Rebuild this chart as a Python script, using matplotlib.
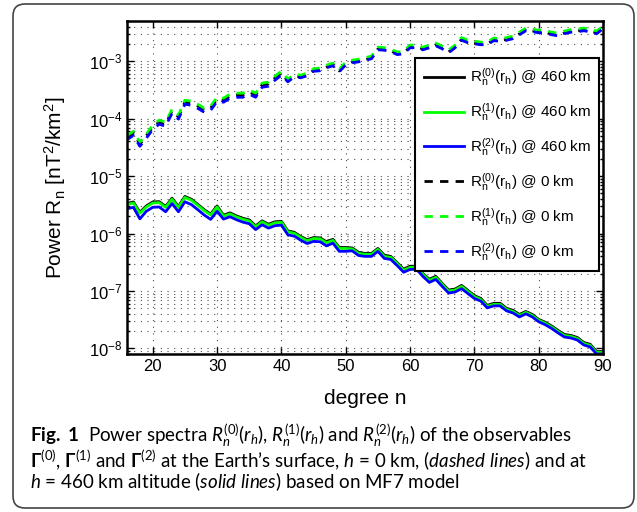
import numpy as np
import matplotlib
matplotlib.use("Agg")
import matplotlib.pyplot as plt
from matplotlib.patches import FancyBboxPatch
from matplotlib.transforms import IdentityTransform
from matplotlib.ticker import LogLocator, NullFormatter, MultipleLocator

plt.rcParams['font.family'] = ['Liberation Sans', 'DejaVu Sans']
plt.rcParams['mathtext.fontset'] = 'custom'
plt.rcParams['mathtext.rm'] = 'Lato'
plt.rcParams['mathtext.it'] = 'Lato:italic'
plt.rcParams['mathtext.bf'] = 'Lato:bold'

# spherical harmonic degree
degree = np.arange(16, 91)

# power spectra at 460 km altitude
r0_460 = [3.33e-6, 3.54e-6, 2.34e-6, 3.02e-6, 3.54e-6, 3.59e-6, 2.96e-6, 4.11e-6, 2.96e-6, 4.42e-6,
          3.95e-6, 3.22e-6, 2.60e-6, 2.18e-6, 3.02e-6, 2.08e-6, 2.29e-6, 2.03e-6, 1.84e-6, 1.73e-6,
          1.36e-6, 1.66e-6, 1.45e-6, 1.60e-6, 1.63e-6, 1.11e-6, 1.05e-6, 8.9e-7, 7.8e-7, 8.5e-7,
          8.4e-7, 7.2e-7, 7.9e-7, 5.7e-7, 5.7e-7, 5.6e-7, 4.7e-7, 4.5e-7, 4.5e-7, 5.5e-7,
          4.2e-7, 4.0e-7, 3.1e-7, 2.4e-7, 2.7e-7, 2.7e-7, 2.0e-7, 1.6e-7, 1.8e-7, 1.35e-7,
          1.04e-7, 1.08e-7, 1.25e-7, 1.02e-7, 8.3e-8, 7.4e-8, 5.6e-8, 6.1e-8, 6.1e-8, 5.0e-8,
          4.6e-8, 3.9e-8, 4.4e-8, 3.9e-8, 3.2e-8, 2.86e-8, 2.46e-8, 2.06e-8, 1.75e-8, 1.68e-8,
          1.55e-8, 1.27e-8, 1.18e-8, 8.8e-9, 8.8e-9]
r1_460 = [3.20e-6, 3.40e-6, 2.25e-6, 2.90e-6, 3.40e-6, 3.45e-6, 2.85e-6, 3.95e-6, 2.85e-6, 4.25e-6,
          3.80e-6, 3.10e-6, 2.50e-6, 2.10e-6, 2.90e-6, 2.00e-6, 2.20e-6, 1.95e-6, 1.77e-6, 1.66e-6,
          1.31e-6, 1.60e-6, 1.39e-6, 1.54e-6, 1.57e-6, 1.07e-6, 1.01e-6, 8.6e-7, 7.5e-7, 8.2e-7,
          8.1e-7, 6.9e-7, 7.6e-7, 5.5e-7, 5.5e-7, 5.4e-7, 4.5e-7, 4.35e-7, 4.35e-7, 5.3e-7,
          4.0e-7, 3.85e-7, 3.0e-7, 2.3e-7, 2.58e-7, 2.6e-7, 1.95e-7, 1.53e-7, 1.73e-7, 1.3e-7,
          1.0e-7, 1.04e-7, 1.2e-7, 9.8e-8, 8.0e-8, 7.1e-8, 5.4e-8, 5.85e-8, 5.85e-8, 4.8e-8,
          4.4e-8, 3.75e-8, 4.25e-8, 3.75e-8, 3.1e-8, 2.75e-8, 2.37e-8, 1.98e-8, 1.68e-8, 1.62e-8,
          1.49e-8, 1.22e-8, 1.13e-8, 8.5e-9, 8.5e-9]
r2_460 = [2.70e-6, 2.85e-6, 1.80e-6, 2.44e-6, 2.86e-6, 2.90e-6, 2.39e-6, 3.32e-6, 2.39e-6, 3.57e-6,
          3.19e-6, 2.60e-6, 2.10e-6, 1.76e-6, 2.44e-6, 1.78e-6, 1.96e-6, 1.74e-6, 1.58e-6, 1.48e-6,
          1.17e-6, 1.42e-6, 1.24e-6, 1.37e-6, 1.40e-6, 9.5e-7, 9.0e-7, 7.65e-7, 6.7e-7, 7.3e-7,
          7.2e-7, 6.1e-7, 6.8e-7, 4.9e-7, 4.9e-7, 5.0e-7, 4.14e-7, 4.0e-7, 4.0e-7, 4.9e-7,
          3.68e-7, 3.54e-7, 2.76e-7, 2.12e-7, 2.37e-7, 2.39e-7, 1.79e-7, 1.41e-7, 1.59e-7, 1.2e-7,
          9.2e-8, 9.6e-8, 1.1e-7, 9.0e-8, 7.4e-8, 6.67e-8, 5.08e-8, 5.5e-8, 5.5e-8, 4.51e-8,
          4.14e-8, 3.53e-8, 4.0e-8, 3.53e-8, 2.91e-8, 2.59e-8, 2.23e-8, 1.86e-8, 1.58e-8, 1.52e-8,
          1.40e-8, 1.15e-8, 1.06e-8, 8.0e-9, 8.0e-9]

# power spectra at the Earth's surface
r0_0 = [4.75e-5, 5.6e-5, 3.6e-5, 5.0e-5, 7.15e-5, 8.7e-5, 8.0e-5, 1.36e-4, 1.07e-4, 1.94e-4,
        1.87e-4, 1.66e-4, 1.41e-4, 1.53e-4, 2.19e-4, 2.11e-4, 2.47e-4, 2.58e-4, 2.58e-4, 2.91e-4,
        2.58e-4, 3.85e-4, 4.0e-4, 5.1e-4, 6.2e-4, 4.5e-4, 5.5e-4, 5.3e-4, 5.75e-4, 6.9e-4,
        7.0e-4, 7.9e-4, 8.6e-4, 6.75e-4, 8.9e-4, 9.7e-4, 1.0e-3, 1.07e-3, 1.13e-3, 1.63e-3,
        1.60e-3, 1.51e-3, 1.34e-3, 1.39e-3, 1.77e-3, 1.77e-3, 1.63e-3, 1.77e-3, 1.92e-3, 1.69e-3,
        1.45e-3, 1.77e-3, 2.39e-3, 2.16e-3, 2.07e-3, 1.99e-3, 1.99e-3, 2.34e-3, 2.30e-3, 2.39e-3,
        2.54e-3, 2.98e-3, 3.50e-3, 3.36e-3, 3.23e-3, 3.23e-3, 2.98e-3, 2.86e-3, 3.10e-3, 3.29e-3,
        3.36e-3, 3.50e-3, 3.36e-3, 3.10e-3, 3.79e-3]
r1_0 = [5.1e-5, 6.0e-5, 3.9e-5, 5.35e-5, 7.7e-5, 9.4e-5, 8.65e-5, 1.46e-4, 1.15e-4, 2.09e-4,
        2.01e-4, 1.78e-4, 1.52e-4, 1.64e-4, 2.36e-4, 2.27e-4, 2.66e-4, 2.77e-4, 2.77e-4, 3.13e-4,
        2.77e-4, 4.14e-4, 4.31e-4, 5.48e-4, 6.70e-4, 4.86e-4, 5.94e-4, 5.70e-4, 6.18e-4, 7.40e-4,
        7.55e-4, 8.51e-4, 9.23e-4, 7.26e-4, 9.61e-4, 1.04e-3, 1.08e-3, 1.15e-3, 1.22e-3, 1.75e-3,
        1.72e-3, 1.62e-3, 1.44e-3, 1.49e-3, 1.90e-3, 1.90e-3, 1.75e-3, 1.90e-3, 2.06e-3, 1.82e-3,
        1.56e-3, 1.90e-3, 2.57e-3, 2.32e-3, 2.23e-3, 2.14e-3, 2.14e-3, 2.52e-3, 2.47e-3, 2.57e-3,
        2.73e-3, 3.20e-3, 3.76e-3, 3.61e-3, 3.47e-3, 3.47e-3, 3.20e-3, 3.07e-3, 3.33e-3, 3.54e-3,
        3.61e-3, 3.76e-3, 3.61e-3, 3.33e-3, 4.07e-3]
r2_0 = [4.3e-5, 5.1e-5, 3.3e-5, 4.55e-5, 6.5e-5, 8.0e-5, 7.35e-5, 1.24e-4, 9.8e-5, 1.78e-4,
        1.71e-4, 1.51e-4, 1.29e-4, 1.39e-4, 2.0e-4, 1.93e-4, 2.26e-4, 2.35e-4, 2.35e-4, 2.66e-4,
        2.35e-4, 3.52e-4, 3.66e-4, 4.66e-4, 5.7e-4, 4.37e-4, 5.35e-4, 5.13e-4, 5.56e-4, 6.66e-4,
        6.8e-4, 7.66e-4, 8.3e-4, 6.53e-4, 8.65e-4, 9.36e-4, 9.72e-4, 1.035e-3, 1.10e-3, 1.575e-3,
        1.55e-3, 1.46e-3, 1.30e-3, 1.34e-3, 1.71e-3, 1.71e-3, 1.575e-3, 1.71e-3, 1.85e-3, 1.64e-3,
        1.40e-3, 1.71e-3, 2.31e-3, 2.09e-3, 2.0e-3, 1.93e-3, 1.93e-3, 2.27e-3, 2.22e-3, 2.31e-3,
        2.46e-3, 2.88e-3, 3.38e-3, 3.25e-3, 3.12e-3, 3.12e-3, 2.88e-3, 2.76e-3, 3.0e-3, 3.19e-3,
        3.25e-3, 3.38e-3, 3.25e-3, 3.0e-3, 3.66e-3]

labels = [r'R$_\mathregular{n}^\mathregular{(%d)}$(r$_\mathregular{h}$) @ %s' % (k, h)
          for h in ('460 km', '0 km') for k in (0, 1, 2)]
colors = ['k', '#00ff00', '#0000ff']

fig = plt.figure(figsize=(6.37, 5.12), dpi=100)
ax = fig.add_axes([0.1994, 0.3086, 0.7473, 0.6504])

# solid: 460 km, dashed: surface
for i, series in enumerate([r0_460, r1_460, r2_460]):
    ax.semilogy(degree, series, color=colors[i], lw=2.0, label=labels[i])
for i, series in enumerate([r0_0, r1_0, r2_0]):
    ax.semilogy(degree, series, color=colors[i], lw=2.0, dashes=(3, 2.6), label=labels[3 + i])

ax.set_xlim(16, 90)
ax.set_ylim(8e-9, 5e-3)
ax.xaxis.set_major_locator(MultipleLocator(10))
ax.yaxis.set_major_locator(LogLocator(base=10, numticks=20))
ax.yaxis.set_minor_locator(LogLocator(base=10, subs=np.arange(2, 10), numticks=20))
ax.yaxis.set_minor_formatter(NullFormatter())

grid_style = dict(color='0.3', linestyle=(0, (1, 5)), linewidth=0.8)
ax.grid(True, which='major', axis='both', **grid_style)
ax.grid(True, which='minor', axis='y', **grid_style)

ax.tick_params(which='both', direction='in', top=True, right=True, labelsize=12, width=1.0)
ax.tick_params(which='major', length=5)
ax.tick_params(which='minor', length=2.5)
for sp in ax.spines.values():
    sp.set_linewidth(1.8)

ax.set_xlabel('degree n', fontsize=15)
ax.xaxis.set_label_coords(0.5, -0.105)
ax.set_ylabel(r'Power R$_\mathregular{n}$ [nT$^\mathregular{2}$/km$^\mathregular{2}$]', fontsize=15)
ax.yaxis.set_label_coords(-0.124, 0.5)

leg = ax.legend(loc='upper right', bbox_to_anchor=(0.992, 0.889), fontsize=11,
                handlelength=2.6, handletextpad=0.4, labelspacing=0.85,
                borderpad=0.55, borderaxespad=0, fancybox=False, framealpha=1)
leg.get_frame().set_edgecolor('k')
leg.get_frame().set_linewidth(1.5)

# rounded frame around figure and caption
frame = FancyBboxPatch((13, 4), 621, 504, boxstyle='round,pad=0,rounding_size=12',
                       transform=IdentityTransform(), facecolor='none',
                       edgecolor='#444444', linewidth=1.2)
fig.patches.append(frame)

caption = [
    r'$\mathbf{Fig.\ 1}$  Power spectra $R_n^{(0)}(r_h)$, $R_n^{(1)}(r_h)$ and $R_n^{(2)}(r_h)$ of the observables',
    r'$\mathbf{\Gamma}^{(0)}$, $\mathbf{\Gamma}^{(1)}$ and $\mathbf{\Gamma}^{(2)}$ at the Earth’s surface, $h$ = 0 km, ($\mathit{dashed\ lines}$) and at',
    r'$h$ = 460 km altitude ($\mathit{solid\ lines}$) based on MF7 model',
]
caption_y = [435, 459.5, 482]
for line, yc in zip(caption, caption_y):
    fig.text(30 / 637, 1 - yc / 512, line, family='Lato', fontsize=13.5,
             va='center', ha='left')

fig.savefig('out.png', dpi=100)
